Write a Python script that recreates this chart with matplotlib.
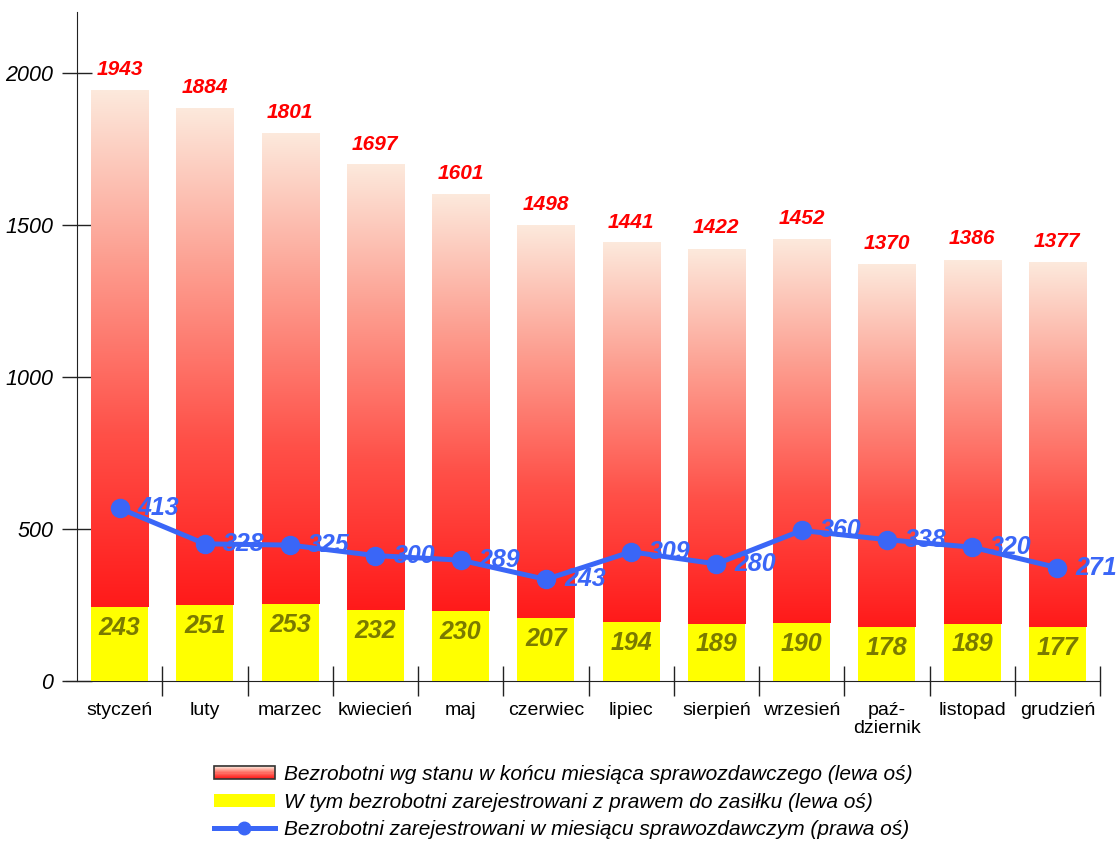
import numpy as np
import matplotlib
matplotlib.use("Agg")
import matplotlib.pyplot as plt
from matplotlib.patches import Rectangle
from matplotlib.lines import Line2D
from matplotlib.legend_handler import HandlerBase
from matplotlib.colors import LinearSegmentedColormap

plt.rcParams['font.family'] = ['Liberation Sans', 'DejaVu Sans']

months = ["styczeń", "luty", "marzec", "kwiecień", "maj", "czerwiec", "lipiec",
          "sierpień", "wrzesień", "paź-\ndziernik", "listopad", "grudzień"]
total = [1943, 1884, 1801, 1697, 1601, 1498, 1441, 1422, 1452, 1370, 1386, 1377]
benefit = [243, 251, 253, 232, 230, 207, 194, 189, 190, 178, 189, 177]
registered = [413, 328, 325, 300, 289, 243, 309, 280, 360, 338, 320, 271]

legend_labels = [
    "Bezrobotni wg stanu w końcu miesiąca sprawozdawczego (lewa oś)",
    "W tym bezrobotni zarejestrowani z prawem do zasiłku (lewa oś)",
    "Bezrobotni zarejestrowani w miesiącu sprawozdawczym (prawa oś)",
]

grad = LinearSegmentedColormap.from_list(
    "g", ["#FF1A1A", "#FF5048", "#FD9C8E", "#FCE9DC"])
YELLOW = "#FFFF00"
BLUE = "#3A66F7"
OLIVE = "#7A7A00"

fig = plt.figure(figsize=(11.18, 8.43), dpi=100)
ax = fig.add_axes([77/1118, 1-681/843, (1100-77)/1118, (681-12)/843])

x = np.arange(len(months))
w = 0.67
gimg = np.linspace(0, 1, 256).reshape(-1, 1)
for xi, t, b in zip(x, total, benefit):
    ax.imshow(gimg, cmap=grad, origin='lower', aspect='auto',
              extent=(xi - w/2, xi + w/2, b, t), zorder=2, interpolation='bilinear')
    ax.annotate(str(t), (xi, t), xytext=(0, 8), textcoords='offset points',
                ha='center', va='bottom', color='#FF0000', fontsize=15,
                fontweight='bold', fontstyle='italic', zorder=5)
ax.bar(x, benefit, width=w, color=YELLOW, zorder=3)
for xi, b in zip(x, benefit):
    ax.annotate(str(b), (xi, b), xytext=(0, -15), textcoords='offset points',
                ha='center', va='center', color=OLIVE, fontsize=18,
                fontweight='bold', fontstyle='italic', zorder=5)

ax.set_xlim(-0.5, len(months) - 0.5)
ax.set_ylim(0, 2200)
ax.set_yticks([0, 500, 1000, 1500, 2000])
ax.set_yticklabels(["0", "500", "1000", "1500", "2000"], fontstyle='italic', fontsize=15.5)
ax.tick_params(axis='y', direction='inout', length=22, width=1, color='#222222', pad=6)
ax.set_xticks(np.arange(0.5, len(months) - 0.4, 1.0))
ax.set_xticklabels([])
ax.set_xticks(x, minor=True)
ax.set_xticklabels(months, minor=True, fontsize=14, va='top', linespacing=1.1)
ax.tick_params(axis='x', which='major', direction='inout', length=22, width=1, color='#222222')
ax.tick_params(axis='x', which='minor', length=0, pad=15)
for s in ['top', 'right']:
    ax.spines[s].set_visible(False)
ax.spines['left'].set_color('#222222')
ax.spines['bottom'].set_color('#222222')
ax.spines['bottom'].set_bounds(-0.5 - 11/85, len(months) - 0.5)

ax2 = ax.twinx()
ax2.set_ylim(0, 1600)
ax2.plot(x, registered, color=BLUE, lw=3.6, marker='o', ms=13, zorder=6)
for xi, r in zip(x, registered):
    ax2.annotate(str(r), (xi, r), xytext=(13, 0), textcoords='offset points',
                 ha='left', va='center', color=BLUE, fontsize=18,
                 fontweight='bold', fontstyle='italic', zorder=7)
ax2.set_yticks([])
for s in ax2.spines.values():
    s.set_visible(False)
ax2.set_xlim(-0.5, len(months) - 0.5)


class GradHandler(HandlerBase):
    def create_artists(self, legend, orig_handle, xdescent, ydescent,
                       width, height, fontsize, trans):
        arts = []
        n = 12
        for i in range(n):
            c = grad(i / (n - 1))
            arts.append(Rectangle((-xdescent, -ydescent + height * i / n), width,
                                  height / n + 0.3, facecolor=c, edgecolor='none',
                                  transform=trans))
        arts.append(Rectangle((-xdescent, -ydescent), width, height, fill=False,
                              edgecolor='#333333', lw=1.2, transform=trans))
        return arts


h1 = Rectangle((0, 0), 1, 1)
h2 = Rectangle((0, 0), 1, 1, facecolor=YELLOW, edgecolor='none')
h3 = Line2D([], [], color=BLUE, lw=3.6, marker='o', ms=9)
fig.legend([h1, h2, h3], legend_labels, handler_map={h1: GradHandler()},
           loc='upper center', bbox_to_anchor=(0.504, 1 - 746/843), frameon=False,
           prop={'style': 'italic', 'size': 15}, handlelength=2.9,
           handleheight=0.6, labelspacing=0.42, handletextpad=0.45, numpoints=1)

fig.savefig("out.png", dpi=100)
